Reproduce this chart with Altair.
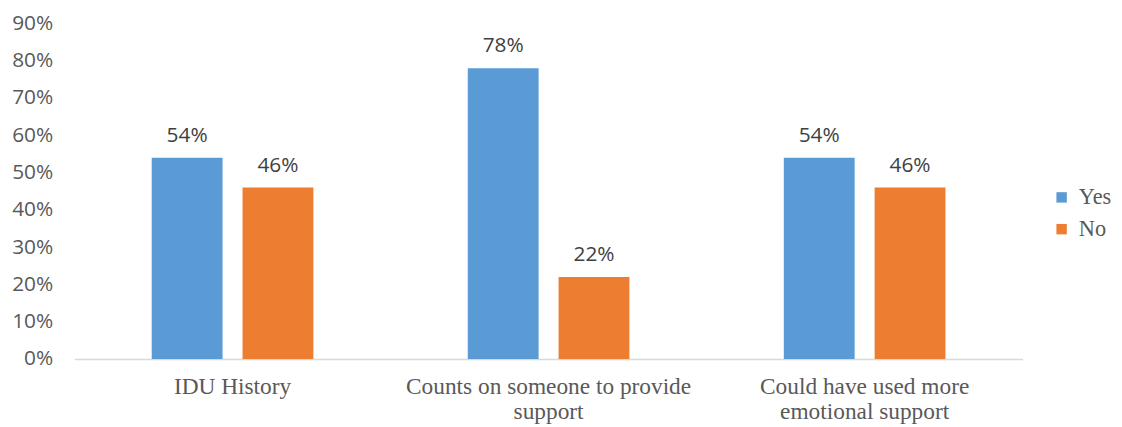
import altair as alt
import pandas as pd

categories = ["IDU History", "Counts on someone to provide support", "Could have used more emotional support"]
label_lines = [["IDU History"], ["Counts on someone to provide", "support"], ["Could have used more", "emotional support"]]
series = ["Yes", "No"]
yes_values = [0.54, 0.78, 0.54]
no_values = [0.46, 0.22, 0.46]
y_ticks = [0, 0.1, 0.2, 0.3, 0.4, 0.5, 0.6, 0.7, 0.8, 0.9]

rows = []
for c, y, n in zip(categories, yes_values, no_values):
    rows.append({"cat": c, "series": "Yes", "value": y})
    rows.append({"cat": c, "series": "No", "value": n})
df = pd.DataFrame(rows)

expr_parts = []
for c, lines in zip(categories, label_lines):
    arr = "[" + ",".join("'" + l + "'" for l in lines) + "]"
    expr_parts.append(f"datum.label == '{c}' ? {arr} : ")
label_expr = "".join(expr_parts) + "datum.label"

x = alt.X("cat:N", sort=categories, title=None,
          scale=alt.Scale(paddingInner=0, paddingOuter=0),
          axis=alt.Axis(labelAngle=0, labelExpr=label_expr, labelFont="Liberation Serif",
                        labelFontSize=23.5, labelColor="#595959", ticks=False,
                        domainColor="#D9D9D9", domainWidth=1.5, labelPadding=16,
                        labelLineHeight=25, labelBaseline="top", labelLimit=400))
xoff = alt.XOffset("series:N", sort=series,
                   scale=alt.Scale(paddingInner=0.22, paddingOuter=0.85))
y = alt.Y("value:Q", title=None,
          scale=alt.Scale(domain=[0, 0.9], nice=False),
          axis=alt.Axis(values=y_ticks, format=".0%", grid=False, domain=False, ticks=False,
                        labelFont="Open Sans", labelFontSize=21, labelColor="#595959",
                        labelPadding=22))

color = alt.Color("series:N", sort=series, title=None,
                  scale=alt.Scale(domain=series, range=["#5B9BD5", "#ED7D31"]),
                  legend=alt.Legend(orient="none", legendX=983, legendY=164,
                                    symbolType="square", symbolSize=110,
                                    symbolStrokeWidth=0,
                                    labelFont="Liberation Serif", labelFontSize=22.5,
                                    labelColor="#595959", rowPadding=9, labelOffset=6))

bars = alt.Chart(df).mark_bar().encode(x=x, xOffset=xoff, y=y, color=color)
texts = alt.Chart(df).mark_text(baseline="bottom", dy=-12, font="Open Sans",
                                fontSize=21, color="#404040").encode(
    x=x, xOffset=xoff, y=y, text=alt.Text("value:Q", format=".0%"))

chart = (bars + texts).properties(
    width=955, height=338,
    background="white",
    autosize=alt.AutoSizeParams(type="none"),
    padding={"left": 67, "top": 14, "right": 92, "bottom": 66},
).configure_view(stroke=None)

chart.save("out.html", embed_options={"renderer": "svg", "actions": False})
